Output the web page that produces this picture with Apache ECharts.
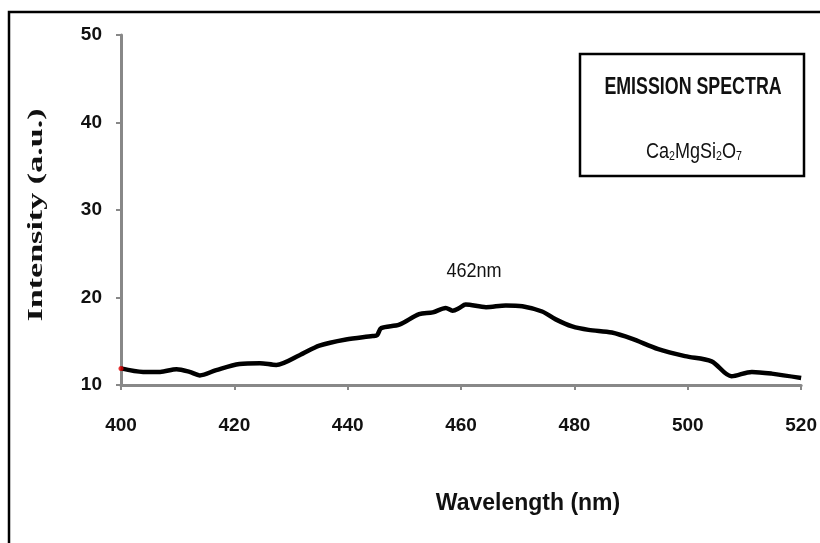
<!DOCTYPE html>
<html>
<head>
<meta charset="utf-8">
<script src="https://cdn.jsdelivr.net/npm/echarts@6/dist/echarts.min.js"></script>
<style>
html,body{margin:0;padding:0;background:#fff;}
#chart{width:820px;height:543px;}
</style>
</head>
<body>
<div id="chart"></div>
<script>
var wavelength = [400, 403.9, 406.9, 409.8, 412.1, 413.9, 416.8, 420.9, 424.5, 427.4, 431.5, 435.0, 439.7, 444.4, 445.2, 445.9, 449.1, 452.6, 455.0, 457.3, 458.5, 459.7, 460.8, 464.4, 467.9, 470.8, 474.3, 476.7, 479.6, 482.5, 486.6, 490.1, 494.8, 499.5, 504.2, 507.7, 511.3, 514.8, 520.0];
var intensity = [11.9, 11.5, 11.5, 11.8, 11.5, 11.1, 11.7, 12.4, 12.5, 12.3, 13.4, 14.5, 15.2, 15.6, 15.7, 16.5, 16.9, 18.1, 18.3, 18.8, 18.5, 18.8, 19.2, 18.9, 19.1, 19.0, 18.4, 17.5, 16.7, 16.3, 16.0, 15.3, 14.1, 13.3, 12.7, 11.0, 11.5, 11.3, 10.8];
var xTicks = {min: 400, max: 520, step: 20};
var yTicks = {min: 10, max: 50, step: 10};
var peakLabel = '462nm';
var xTitle = 'Wavelength (nm)';
var yTitle = 'Intensity (a.u.)';
var boxTitle = 'EMISSION SPECTRA';

var sans = "'Liberation Sans', Arial, sans-serif";
var axisGray = '#888888';

var lineData = wavelength.map(function (w, i) { return [w, intensity[i]]; });

var chart = echarts.init(document.getElementById('chart'), null, {renderer: 'canvas'});
chart.setOption({
  backgroundColor: '#ffffff',
  animation: false,
  grid: {left: 121, right: 17, top: 35, bottom: 158, containLabel: false},
  xAxis: {
    type: 'value', min: xTicks.min, max: xTicks.max, interval: xTicks.step,
    axisLine: {show: true, lineStyle: {color: axisGray, width: 3}},
    axisTick: {show: true, inside: false, length: 5, lineStyle: {color: axisGray, width: 2}},
    splitLine: {show: false},
    axisLabel: {margin: 31, color: '#111', fontFamily: sans, fontWeight: 'bold', fontSize: 19}
  },
  yAxis: {
    type: 'value', min: yTicks.min, max: yTicks.max, interval: yTicks.step,
    axisLine: {show: true, lineStyle: {color: axisGray, width: 3}},
    axisTick: {show: true, inside: false, length: 5, lineStyle: {color: axisGray, width: 2}},
    splitLine: {show: false},
    axisLabel: {margin: 19, color: '#111', fontFamily: sans, fontWeight: 'bold', fontSize: 19}
  },
  series: [
    {
      type: 'line', data: lineData, symbol: 'none', smooth: 0.3,
      lineStyle: {color: '#000', width: 4.5}, z: 3
    },
    {
      type: 'scatter', data: [lineData[0]], symbol: 'circle', symbolSize: 5,
      itemStyle: {color: '#e00000'}, z: 4
    }
  ],
  graphic: [
    {
      type: 'polyline', z: 10,
      shape: {points: [[9, 543], [9, 12], [820, 12]]},
      style: {stroke: '#000', lineWidth: 2.5, fill: null}
    },
    {
      type: 'rect', z: 10,
      shape: {x: 580, y: 54, width: 224, height: 122},
      style: {stroke: '#000', lineWidth: 2.5, fill: '#fff'}
    },
    {
      type: 'text', z: 11, x: 693, y: 88, scaleX: 0.81, scaleY: 1.05,
      style: {text: boxTitle, font: "bold 22px 'Liberation Sans', sans-serif", fill: '#111', align: 'center', verticalAlign: 'middle'}
    },
    {
      type: 'text', z: 11, x: 694, y: 150, scaleX: 0.82,
      style: {
        text: '{n|Ca}{s|2}{n|MgSi}{s|2}{n|O}{s|7}',
        align: 'center', verticalAlign: 'middle',
        rich: {
          n: {fontFamily: sans, fontSize: 22, fill: '#111', lineHeight: 26, verticalAlign: 'bottom'},
          s: {fontFamily: sans, fontSize: 13, fill: '#111', lineHeight: 20, verticalAlign: 'bottom'}
        }
      }
    },
    {
      type: 'text', z: 11, x: 474, y: 271, scaleX: 0.86,
      style: {text: peakLabel, font: "21px 'Liberation Sans', sans-serif", fill: '#111', align: 'center', verticalAlign: 'middle'}
    },
    {
      type: 'text', z: 11, x: 528, y: 503, scaleY: 1.05,
      style: {text: xTitle, font: "bold 23px 'Liberation Sans', sans-serif", fill: '#111', align: 'center', verticalAlign: 'middle'}
    },
    {
      type: 'text', z: 11, x: 36, y: 215, rotation: Math.PI / 2, scaleX: 1.55,
      style: {text: yTitle, font: "bold 22px 'Liberation Serif', serif", fill: '#111', align: 'center', verticalAlign: 'middle'}
    }
  ]
});
</script>
</body>
</html>
